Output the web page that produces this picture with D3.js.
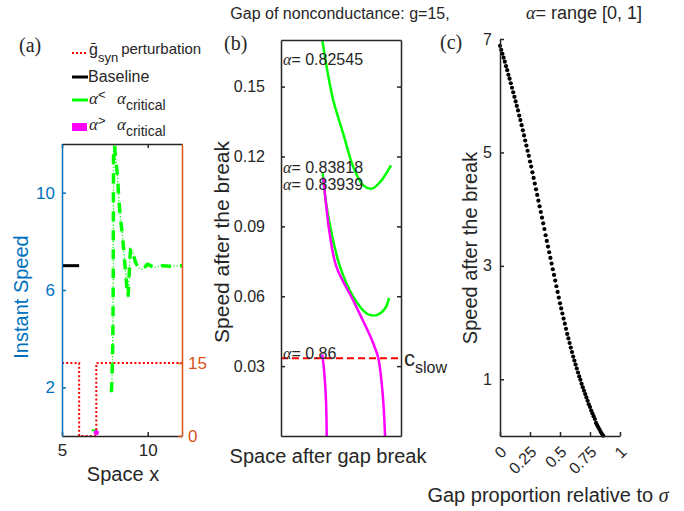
<!DOCTYPE html>
<html><head><meta charset="utf-8">
<script src="https://cdn.jsdelivr.net/npm/d3@7"></script>
<style>
body{margin:0;background:#fff}
text{font-family:"Liberation Sans",Arial,sans-serif;fill:#262626}
.serif{font-family:"Liberation Serif","Times New Roman",serif}
</style>
</head><body>
<svg id="c" width="684" height="511"></svg>
<script>
// ---------- Panel (a) data ----------
const aXTicks = [5, 10];
const aYTicks = [2, 6, 10];
const aY2Ticks = [0, 15];
const gsynX = [5, 6, 6, 7, 7, 12];
const gsynY = [15, 15, 0, 0, 15, 15];
const baselineX = [5, 6];
const baselineY = [7, 7];
const speedX = [7.88, 7.93, 7.97, 7.99, 8.00, 8.01, 8.03, 8.05, 8.07, 8.22, 8.35, 8.55, 8.71, 8.80, 8.84, 8.88, 8.94, 9.02, 9.10, 9.29, 9.50, 9.69, 9.85, 9.98, 10.15, 10.47, 10.8, 11.4, 12];
const speedY = [1.80, 2.8, 4.5, 7.0, 10.0, 12.5, 13.5, 12.8, 12.0, 10.8, 9.42, 8.06, 6.69, 6.0, 5.72, 6.0, 7.0, 7.71, 7.6, 7.15, 6.9, 6.85, 6.95, 7.06, 7.0, 6.93, 7.0, 6.98, 7.0];
const markerGreen = [6.85, 0.15];
const markerMagenta = [7.0, 0.1];

// ---------- Panel (b) data ----------
const bYTicks = [0.03, 0.06, 0.09, 0.12, 0.15];
const cslow = 0.0334;
const g1X = [0.344, 0.381, 0.436, 0.519, 0.603, 0.686, 0.756, 0.825, 0.917];
const g1Y = [0.1700, 0.1583, 0.144, 0.1297, 0.1154, 0.1076, 0.1062, 0.109, 0.1162];
const g2X = [0.347, 0.372, 0.422, 0.492, 0.603, 0.714, 0.797, 0.867, 0.900];
const g2Y = [0.1133, 0.1012, 0.0869, 0.0726, 0.0597, 0.0526, 0.0519, 0.0547, 0.0593];
const m1X = [0.352, 0.372, 0.405, 0.462, 0.600, 0.658, 0.733, 0.769, 0.811, 0.839, 0.856, 0.867];
const m1Y = [0.1110, 0.1012, 0.0870, 0.0726, 0.0584, 0.0522, 0.0441, 0.0397, 0.0334, 0.0227, 0.0120, 0.0];
const m2X = [0.344, 0.361, 0.375, 0.381];
const m2Y = [0.0350, 0.0269, 0.0154, 0.0];
const bLabels = ["0.82545", "0.83818", "0.83939", "0.86"];
const bLabelY = [0.1612, 0.1149, 0.1076, 0.0351];

// ---------- Panel (c) data ----------
const cXTicks = [0, 0.25, 0.5, 0.75, 1];
const cYTicks = [1, 3, 5, 7];
const alphaVals = [0.00,0.01,0.02,0.03,0.04,0.05,0.06,0.07,0.08,0.09,0.10,0.11,0.12,0.13,0.14,0.15,0.16,0.17,0.18,0.19,0.20,0.21,0.22,0.23,0.24,0.25,0.26,0.27,0.28,0.29,0.30,0.31,0.32,0.33,0.34,0.35,0.36,0.37,0.38,0.39,0.40,0.41,0.42,0.43,0.44,0.45,0.46,0.47,0.48,0.49,0.50,0.51,0.52,0.53,0.54,0.55,0.56,0.57,0.58,0.59,0.60,0.61,0.62,0.63,0.64,0.65,0.66,0.67,0.68,0.69,0.70,0.71,0.72,0.73,0.74,0.75,0.76,0.77,0.78,0.79,0.80,0.81,0.82,0.83,0.84,0.85,0.86];
const speedVals = [6.88,6.81,6.74,6.67,6.60,6.52,6.45,6.37,6.30,6.22,6.14,6.06,5.98,5.90,5.82,5.74,5.65,5.57,5.48,5.39,5.30,5.21,5.12,5.03,4.94,4.84,4.75,4.65,4.55,4.45,4.35,4.25,4.15,4.05,3.95,3.85,3.75,3.65,3.54,3.44,3.34,3.24,3.14,3.04,2.94,2.84,2.74,2.64,2.54,2.44,2.34,2.25,2.16,2.07,1.98,1.89,1.80,1.72,1.64,1.56,1.48,1.40,1.33,1.26,1.19,1.12,1.05,0.99,0.92,0.86,0.80,0.74,0.68,0.62,0.56,0.51,0.45,0.40,0.35,0.30,0.23,0.19,0.15,0.11,0.07,0.035,0.005];

const BLUE = "#0072BD", ORANGE = "#D95319", DARK = "#262626";
const GREEN = "#00FF00", MAG = "#FF00FF", RED = "#FF0000";

const svg = d3.select("#c");
const defs = svg.append("defs");
function clip(id, x, y, w, h) {
  defs.append("clipPath").attr("id", id).append("rect")
    .attr("x", x).attr("y", y).attr("width", w).attr("height", h);
}
function styleAxis(g, color, fs) {
  g.selectAll("path.domain").attr("stroke", color).attr("stroke-width", 1.5);
  g.selectAll(".tick line").attr("stroke", color).attr("stroke-width", 1.5);
  g.selectAll(".tick text").attr("fill", color).style("fill", color).style("font-size", fs + "px")
    .style("font-family", '"Liberation Sans",Arial,sans-serif');
}
const zip = (a, b) => a.map((v, i) => [v, b[i]]);

// ---------- Titles ----------
svg.append("text").attr("x", 340).attr("y", 19).attr("text-anchor", "middle")
  .style("font-size", "16px").text("Gap of nonconductance: g=15,");
const t2 = svg.append("text").attr("x", 584).attr("y", 19).attr("text-anchor", "middle").style("font-size", "18px");
t2.append("tspan").attr("class", "serif").style("font-style", "italic").text("α");
t2.append("tspan").text("= range [0, 1]");

svg.append("text").attr("class", "serif").attr("x", 19).attr("y", 52).style("font-size", "20px").text("(a)");
svg.append("text").attr("class", "serif").attr("x", 224).attr("y", 50).style("font-size", "20px").text("(b)");
svg.append("text").attr("class", "serif").attr("x", 440).attr("y", 49).style("font-size", "20px").text("(c)");

// ================= Panel (a) =================
const xa = d3.scaleLinear().domain([5, 12]).range([62, 182]);
const ya = d3.scaleLinear().domain([0, 12]).range([436, 144]);
const ya2 = d3.scaleLinear().domain([0, 60]).range([436, 144]);
clip("clipA", 62, 144, 120, 292);

const pa = svg.append("g");
const gA = pa.append("g").attr("clip-path", "url(#clipA)");
gA.append("path").datum(zip(gsynX, gsynY))
  .attr("d", d3.line().x(d => xa(d[0])).y(d => ya2(d[1])))
  .attr("fill", "none").attr("stroke", RED).attr("stroke-width", 2).attr("stroke-dasharray", "2,2.2");
gA.append("path").datum(zip(baselineX, baselineY))
  .attr("d", d3.line().x(d => xa(d[0])).y(d => ya(d[1])))
  .attr("fill", "none").attr("stroke", "#000").attr("stroke-width", 3);
const spLine = d3.line().x(d => xa(d[0])).y(d => ya(d[1])).curve(d3.curveMonotoneX);
gA.append("path").datum(zip(speedX, speedY)).attr("d", spLine)
  .attr("fill", "none").attr("stroke", GREEN).attr("stroke-width", 1.3).attr("stroke-dasharray", "1.2,2");
gA.append("path").datum(zip(speedX, speedY)).attr("d", spLine)
  .attr("fill", "none").attr("stroke", GREEN).attr("stroke-width", 3.5).attr("stroke-dasharray", "10,9");
gA.append("line").attr("x1", xa(markerGreen[0]) - 2).attr("x2", xa(markerGreen[0]) + 2)
  .attr("y1", ya(markerGreen[1]) - 2).attr("y2", ya(markerGreen[1]) - 2)
  .attr("stroke", GREEN).attr("stroke-width", 2);
gA.append("circle").attr("cx", xa(markerMagenta[0])).attr("cy", ya(markerMagenta[1]) - 1).attr("r", 2.6).attr("fill", MAG);

const axAB = pa.append("g").attr("transform", "translate(0,436)")
  .call(d3.axisBottom(xa).tickValues(aXTicks).tickSizeInner(-4).tickSizeOuter(0).tickPadding(8).tickFormat(d3.format("d")));
styleAxis(axAB, DARK, 17);
const axAT = pa.append("g").attr("transform", "translate(0,144)")
  .call(d3.axisTop(xa).tickValues(aXTicks).tickSizeInner(-4).tickSizeOuter(0).tickFormat(""));
styleAxis(axAT, DARK, 17);
const axAL = pa.append("g").attr("transform", "translate(62,0)")
  .call(d3.axisLeft(ya).tickValues(aYTicks).tickSizeInner(-4).tickSizeOuter(0).tickPadding(7));
styleAxis(axAL, BLUE, 17);
const axAR = pa.append("g").attr("transform", "translate(182,0)")
  .call(d3.axisRight(ya2).tickValues(aY2Ticks).tickSizeInner(-4).tickSizeOuter(0).tickPadding(6));
styleAxis(axAR, ORANGE, 17);

pa.append("text").attr("x", 123).attr("y", 481).attr("text-anchor", "middle")
  .style("font-size", "20px").text("Space x");
pa.append("text").attr("transform", "translate(28,297) rotate(-90)").attr("text-anchor", "middle")
  .style("font-size", "20px").style("fill", BLUE).text("Instant Speed");

// legend (a)
const lg = svg.append("g");
lg.append("line").attr("x1", 72).attr("x2", 87).attr("y1", 53).attr("y2", 53)
  .attr("stroke", RED).attr("stroke-width", 2).attr("stroke-dasharray", "2,2");
const l1 = lg.append("text").attr("x", 89).attr("y", 55).style("font-size", "16px");
l1.append("tspan").text("ḡ");
l1.append("tspan").attr("dy", 7).style("font-size", "13px").text("syn");
l1.append("tspan").attr("dy", -8).attr("dx", 3).style("font-size", "15px").text("perturbation");

lg.append("line").attr("x1", 72).attr("x2", 88).attr("y1", 77).attr("y2", 77)
  .attr("stroke", "#000").attr("stroke-width", 3);
lg.append("text").attr("x", 88).attr("y", 82).style("font-size", "16px").text("Baseline");

lg.append("line").attr("x1", 72).attr("x2", 88).attr("y1", 100).attr("y2", 100)
  .attr("stroke", GREEN).attr("stroke-width", 3);
const l3 = lg.append("text").attr("x", 89).attr("y", 104).style("font-size", "17px");
l3.append("tspan").attr("class", "serif").style("font-style", "italic").text("α");
l3.append("tspan").attr("dy", -5).style("font-size", "13px").text("<");
l3.append("tspan").attr("x", 117).attr("dy", 5).attr("class", "serif").style("font-style", "italic").text("α");
l3.append("tspan").attr("dy", 6).style("font-size", "14px").text("critical");

lg.append("rect").attr("x", 72).attr("y", 123).attr("width", 15).attr("height", 8).attr("fill", MAG);
const l4 = lg.append("text").attr("x", 89).attr("y", 130).style("font-size", "17px");
l4.append("tspan").attr("class", "serif").style("font-style", "italic").text("α");
l4.append("tspan").attr("dy", -5).style("font-size", "13px").text(">");
l4.append("tspan").attr("x", 117).attr("dy", 5).attr("class", "serif").style("font-style", "italic").text("α");
l4.append("tspan").attr("dy", 6).style("font-size", "14px").text("critical");

// ================= Panel (b) =================
const xb = d3.scaleLinear().domain([0, 1]).range([281, 401]);
const yb = d3.scaleLinear().domain([0, 0.17]).range([436, 40]);
clip("clipB", 281, 40, 120, 396);
const pb = svg.append("g");
const gB = pb.append("g").attr("clip-path", "url(#clipB)");
const bLine = d3.line().x(d => xb(d[0])).y(d => yb(d[1])).curve(d3.curveCatmullRom);
gB.append("path").datum(zip(g1X, g1Y)).attr("d", bLine).attr("fill", "none").attr("stroke", GREEN).attr("stroke-width", 2.5);
gB.append("path").datum(zip(g2X, g2Y)).attr("d", bLine).attr("fill", "none").attr("stroke", GREEN).attr("stroke-width", 2.5);
gB.append("path").datum(zip(m1X, m1Y)).attr("d", bLine).attr("fill", "none").attr("stroke", MAG).attr("stroke-width", 2.5);
gB.append("path").datum(zip(m2X, m2Y)).attr("d", bLine).attr("fill", "none").attr("stroke", MAG).attr("stroke-width", 2.5);
gB.append("line").attr("x1", xb(0)).attr("x2", xb(1)).attr("y1", yb(cslow)).attr("y2", yb(cslow))
  .attr("stroke", RED).attr("stroke-width", 2).attr("stroke-dasharray", "7,4");

bLabels.forEach((s, i) => {
  const t = pb.append("text").attr("x", xb(0) + 2).attr("y", yb(bLabelY[i]) + 5).style("font-size", "16px");
  t.append("tspan").attr("class", "serif").style("font-style", "italic").text("α");
  t.append("tspan").text("= " + s);
});

const axBL = pb.append("g").attr("transform", "translate(281,0)")
  .call(d3.axisLeft(yb).tickValues(bYTicks).tickSizeInner(-4).tickSizeOuter(0).tickPadding(16).tickFormat(d3.format(".2f")));
styleAxis(axBL, DARK, 16);
const axBR = pb.append("g").attr("transform", "translate(401,0)")
  .call(d3.axisRight(yb).tickValues(bYTicks).tickSizeInner(-4).tickSizeOuter(0).tickFormat(""));
styleAxis(axBR, DARK, 16);
const axBT = pb.append("g").attr("transform", "translate(0,40)")
  .call(d3.axisTop(xb).tickValues([]).tickSizeOuter(0));
styleAxis(axBT, DARK, 16);
const axBB = pb.append("g").attr("transform", "translate(0,436)")
  .call(d3.axisBottom(xb).tickValues([]).tickSizeOuter(0));
styleAxis(axBB, DARK, 16);

const cs = pb.append("text").attr("x", 404).attr("y", 366).style("font-size", "22px");
cs.append("tspan").text("c");
cs.append("tspan").attr("dy", 7).style("font-size", "16px").text("slow");

pb.append("text").attr("x", 328).attr("y", 463).attr("text-anchor", "middle")
  .style("font-size", "20px").text("Space after gap break");
pb.append("text").attr("transform", "translate(229,242) rotate(-90)").attr("text-anchor", "middle")
  .style("font-size", "21px").text("Speed after the break");

// ================= Panel (c) =================
const xc = d3.scaleLinear().domain([0, 1]).range([500, 620]);
const yc = d3.scaleLinear().domain([0, 7]).range([436, 39]);
const pc = svg.append("g");
pc.append("g").selectAll("circle").data(zip(alphaVals, speedVals)).join("circle")
  .attr("cx", d => xc(d[0])).attr("cy", d => yc(d[1])).attr("r", 2.1).attr("fill", "#000");

const axCL = pc.append("g").attr("transform", "translate(500,0)")
  .call(d3.axisLeft(yc).tickValues(cYTicks).tickSizeInner(-4).tickSizeOuter(0).tickPadding(8).tickFormat(d3.format("d")));
styleAxis(axCL, DARK, 16);
const axCB = pc.append("g").attr("transform", "translate(0,436)")
  .call(d3.axisBottom(xc).tickValues(cXTicks).tickSizeInner(-4).tickSizeOuter(0).tickFormat(d => String(d)));
styleAxis(axCB, DARK, 16);
axCB.selectAll(".tick text").attr("text-anchor", "end").attr("dy", null).attr("y", 0)
  .attr("transform", "translate(7,17) rotate(-45)");

const xl = pc.append("text").attr("x", 548).attr("y", 502).attr("text-anchor", "middle").style("font-size", "20px");
xl.append("tspan").text("Gap proportion relative to ");
xl.append("tspan").attr("class", "serif").style("font-style", "italic").text("σ");
pc.append("text").attr("transform", "translate(477,248) rotate(-90)").attr("text-anchor", "middle")
  .style("font-size", "20px").text("Speed after the break");
</script>
</body></html>
